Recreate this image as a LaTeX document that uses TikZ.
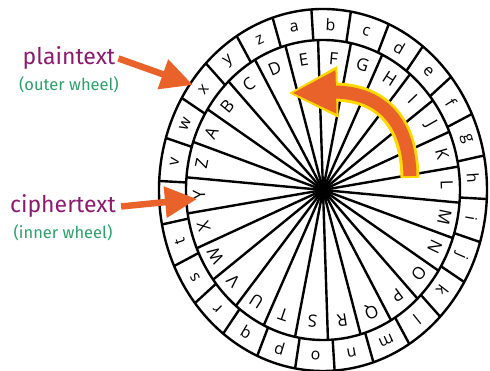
\documentclass[tikz,border=0pt]{standalone}
\usepackage{fontspec}
\setmainfont{Fira Sans}
\newfontfamily\wheelfont{Open Sans}
\usetikzlibrary{arrows.meta, positioning, calc}
\definecolor{plain}{HTML}{8C1A6E}
\definecolor{note}{HTML}{2E9E6B}
\definecolor{pointer}{HTML}{E8622A}
\definecolor{glow}{HTML}{FFD800}

\begin{document}
\begin{tikzpicture}[x=1pt, y=1pt,
  lbl/.style={font=\fontsize{23}{23}\selectfont, text=plain, inner sep=0pt},
  sub/.style={font=\fontsize{16.5}{16.5}\selectfont, text=note, inner sep=0pt},
  ptr/.style={pointer, line width=6.5pt, -{Triangle[length=32pt, width=30pt]}},
  wl/.style={line width=2.4pt},
  lo/.style={font=\wheelfont\fontsize{16}{16}\selectfont, inner sep=0pt},
  up/.style={font=\wheelfont\fontsize{17}{17}\selectfont, inner sep=0pt}]
  \useasboundingbox (-323,-181) rectangle (167,190);
  % wheel rings
  \draw[wl] (0,0) ellipse [x radius=164, y radius=181];
  \draw[wl] (0,0) ellipse [x radius=137, y radius=150];
  \foreach \k in {0,...,25} {
    \pgfmathsetmacro\a{161.3-13.846*\k}
    \draw[wl] (0,0) -- ({137*cos(\a)},{150*sin(\a)});
    \pgfmathsetmacro\b{107.9-13.846*\k}
    \draw[wl] ({137*cos(\b)},{150*sin(\b)}) -- ({164*cos(\b)},{181*sin(\b)});
  }
  \fill (0,0) circle (8);
  % letters
  \foreach \L [count=\k from 0] in {a,...,z} {
    \pgfmathsetmacro\a{101-13.846*\k}
    \node[lo, rotate=\a-90] (out\L) at ({150.5*cos(\a)},{165.5*sin(\a)}) {\L};
  }
  \foreach \L [count=\k from 0] in {A,...,Z} {
    \pgfmathsetmacro\a{154.4-13.846*\k}
    \node[up, rotate=\a-90] (in\L) at ({124*cos(\a)},{132*sin(\a)}) {\L};
  }
  % labels
  \node[lbl, anchor=base] (plain) at (-254,125) {plaintext};
  \node[sub, below=6pt of plain] (outer) {(outer wheel)};
  \node[lbl, anchor=base] (cipher) at (-260,-23) {ciphertext};
  \node[sub, below=6pt of cipher] (inner) {(inner wheel)};
  \coordinate (xmark) at (-130,105);
  \coordinate (ymark) at (-126,-9);
  \draw[ptr] ([xshift=3pt]plain.east) -- (xmark);
  \draw[ptr] ([xshift=5pt]cipher.east) -- (ymark);
  % shift arrow
  \coordinate (tail) at (87,14);
  \coordinate (bend) at (10,98);
  \coordinate (head) at (-31,97);
  \draw[glow, line width=19pt, -{Triangle[length=50pt, width=48pt]}, shorten >=-4pt, shorten <=-2pt]
    (tail) .. controls (86,72) and (55,98) .. (bend) -- (head);
  \draw[pointer, line width=13pt, -{Triangle[length=44pt, width=40pt]}]
    (tail) .. controls (86,72) and (55,98) .. (bend) -- (head);
\end{tikzpicture}
\end{document}
